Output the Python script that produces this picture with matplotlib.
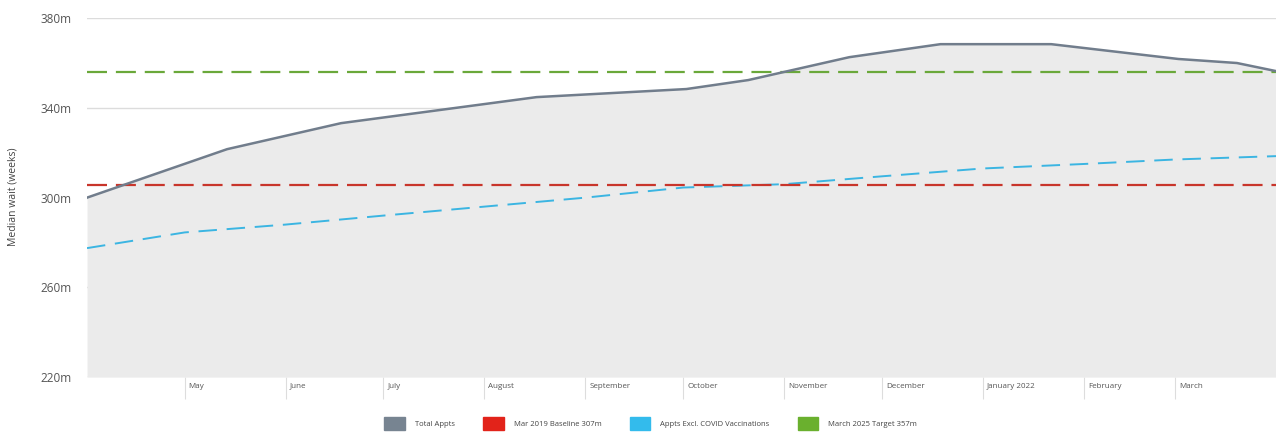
import matplotlib
matplotlib.use("Agg")
import matplotlib.pyplot as plt
import matplotlib.transforms as mtrans
from matplotlib.patches import Patch
import pandas as pd

plt.rcParams['font.family'] = ['Open Sans', 'DejaVu Sans']

# Total appointments (irregular points along the line)
total_dates = pd.to_datetime(['2021-04-01', '2021-05-14', '2021-06-18', '2021-08-17',
                              '2021-10-02', '2021-10-21', '2021-11-21', '2021-12-19',
                              '2022-01-22', '2022-03-02', '2022-03-20', '2022-04-01'])
total_vals = [300, 321.6, 333.2, 344.8, 348.4, 352.4, 362.6, 368.4, 368.4, 361.8, 360, 356.4]

# Appts excluding COVID vaccinations (monthly)
excl_dates = pd.date_range('2021-04-01', '2022-04-01', freq='MS')
excl_vals = [277.5, 284.5, 288, 292, 296, 300, 304.5, 306, 309.5, 313, 315, 317, 318.5]

baseline = 305.5
target = 356

month_ticks = pd.date_range('2021-05-01', '2022-03-01', freq='MS')
month_labels = ['May', 'June', 'July', 'August', 'September', 'October', 'November',
                'December', 'January 2022', 'February', 'March']
y_ticks = [220, 260, 300, 340, 380]

fig = plt.figure(figsize=(12.76, 4.32), dpi=100)
ax = fig.add_axes([0.0682, 0.127, 0.9318, 0.831])

grey = '#717d8c'
red = '#c8352b'
blue = '#3bb5e2'
green = '#6aa83a'

ax.fill_between(total_dates, total_vals, 220, color='#ebebeb', lw=0, zorder=1)
ax.plot(total_dates, total_vals, color=grey, lw=1.8, zorder=4)
ax.plot(excl_dates, excl_vals, color=blue, lw=1.4, dashes=(9.5, 5), zorder=3)
ax.axhline(baseline, color=red, lw=1.6, dashes=(9, 4), zorder=3)
ax.axhline(target, color=green, lw=1.6, dashes=(9, 4), zorder=3)

ax.set_xlim(pd.Timestamp('2021-04-01'), pd.Timestamp('2022-04-01'))
ax.set_ylim(220, 380)
ax.set_yticks(y_ticks)
ax.set_yticklabels([f'{v}m' for v in y_ticks], fontsize=8.5, color='#555555')
ax.yaxis.grid(True, color='#dcdcdc', lw=1)
ax.set_axisbelow(True)
for s in ax.spines.values():
    s.set_visible(False)
ax.tick_params(axis='y', length=0, pad=11)

ax.set_xticks(month_ticks)
ax.set_xticklabels(month_labels, fontsize=5.8, color='#555555', ha='left')
ax.tick_params(axis='x', length=16, width=0.8, color='#dddddd', pad=-12)
offset = mtrans.ScaledTranslation(4 / 100, 0, fig.dpi_scale_trans)
for lbl in ax.get_xticklabels():
    lbl.set_transform(lbl.get_transform() + offset)

fig.text(13 / 1276, 0.544, 'Median wait (weeks)', rotation=90, ha='center', va='center',
         fontsize=7.5, color='#444444')

handles = [Patch(color='#778491', label='Total Appts'),
           Patch(color='#e2231a', label='Mar 2019 Baseline 307m'),
           Patch(color='#33bbec', label='Appts Excl. COVID Vaccinations'),
           Patch(color='#6ab02e', label='March 2025 Target 357m')]
fig.legend(handles=handles, loc='lower center', bbox_to_anchor=(0.51, -0.012), ncol=4,
           frameon=False, fontsize=5.5, handlelength=2.7, handleheight=2.3,
           handletextpad=1.3, columnspacing=3.7, labelcolor='#444444')

fig.savefig('out.png', dpi=100)
